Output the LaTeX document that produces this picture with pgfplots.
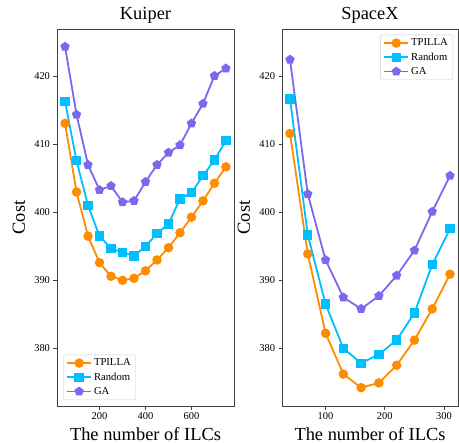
\documentclass[border=0pt]{standalone}
\usepackage{pgfplots}
\pgfplotsset{compat=1.18}
\usepackage{fontspec}
\setmainfont{Liberation Serif}
\usetikzlibrary{plotmarks}

\definecolor{colT}{HTML}{FF8C00}
\definecolor{colR}{HTML}{00BFFF}
\definecolor{colG}{HTML}{7B68EE}

\pgfplotsset{
  ilc/.style={
    scale only axis,
    width=177bp, height=377bp,
    ymin=371.5, ymax=427,
    ytick={380,390,400,410,420},
    axis line style={black!75, line width=0.8bp},
    tick align=outside,
    xtick pos=left, ytick pos=left,
    major tick length=3.5bp,
    tick style={black!75, line width=0.8bp},
    tick label style={font=\fontsize{10.5}{12}\selectfont},
    /pgf/number format/assume math mode=true,
    title style={font=\fontsize{18.5}{20}\selectfont, at={(axis description cs:0.5,1)}, anchor=base, yshift=3.5bp},
    xlabel={The number of ILCs},
    ylabel={Cost},
    label style={font=\fontsize{18.5}{20}\selectfont},
    xlabel style={at={(axis description cs:0.5,0)}, anchor=base, yshift=-34bp},
    legend style={font=\fontsize{10.7}{12}\selectfont, draw=black!20, rounded corners=2bp,
      inner xsep=3bp, inner ysep=2bp, row sep=1.5bp},
    legend cell align=left,
    legend image code/.code={
      \draw[mark repeat=2, mark phase=2] plot coordinates {(0bp,0bp) (12bp,0bp) (24bp,0bp)};
    },
  },
  tp/.style={colT, line width=1.8bp, mark=*, mark size=3.8bp, mark options={colT, solid}},
  rd/.style={colR, line width=1.8bp, mark=square*, mark size=3.8bp, mark options={colR, solid}},
  ga/.style={colG, line width=1.8bp, mark=pentagon*, mark size=3.8bp, mark options={colG, solid}},
}

\begin{document}
\begin{tikzpicture}
\path[use as bounding box] (-57bp,-37bp) rectangle (402bp,406bp);

\begin{axis}[ilc,
  title={Kuiper},
  xmin=15, xmax=785,
  xtick={200,400,600},
  ylabel style={at={(axis description cs:-0.181,0.5)}, anchor=base},
  legend style={at={(0.034,0.016)}, anchor=south west},
]
\addplot[tp] coordinates {
  (50,413.1) (100,403.0) (150,396.5) (200,392.6) (250,390.6) (300,390.0) (350,390.3)
  (400,391.4) (450,393.0) (500,394.8) (550,397.0) (600,399.3) (650,401.7) (700,404.3) (750,406.7)
};
\addlegendentry{TPILLA}
\addplot[rd] coordinates {
  (50,416.3) (100,407.6) (150,401.0) (200,396.5) (250,394.7) (300,394.1) (350,393.6)
  (400,395.0) (450,396.9) (500,398.3) (550,402.0) (600,402.9) (650,405.4) (700,407.7) (750,410.6)
};
\addlegendentry{Random}
\addplot[ga] coordinates {
  (50,424.4) (100,414.4) (150,407.0) (200,403.3) (250,403.9) (300,401.5) (350,401.7)
  (400,404.5) (450,407.0) (500,408.8) (550,409.9) (600,413.1) (650,416.0) (700,420.1) (750,421.2)
};
\addlegendentry{GA}
\end{axis}

\begin{axis}[ilc,
  xshift=225bp,
  width=176bp,
  title={SpaceX},
  xmin=26.5, xmax=323.5,
  xtick={100,200,300},
  ylabel style={at={(axis description cs:-0.182,0.5)}, anchor=base},
  legend style={at={(0.972,0.985)}, anchor=north east},
]
\addplot[tp] coordinates {
  (40,411.6) (70,393.9) (100,382.2) (130,376.2) (160,374.2)
  (190,374.9) (220,377.5) (250,381.2) (280,385.8) (310,390.9)
};
\addlegendentry{TPILLA}
\addplot[rd] coordinates {
  (40,416.7) (70,396.7) (100,386.5) (130,380.0) (160,377.8)
  (190,379.1) (220,381.2) (250,385.2) (280,392.3) (310,397.6)
};
\addlegendentry{Random}
\addplot[ga] coordinates {
  (40,422.5) (70,402.7) (100,393.0) (130,387.5) (160,385.8)
  (190,387.7) (220,390.7) (250,394.4) (280,400.1) (310,405.4)
};
\addlegendentry{GA}
\end{axis}
\end{tikzpicture}
\end{document}
